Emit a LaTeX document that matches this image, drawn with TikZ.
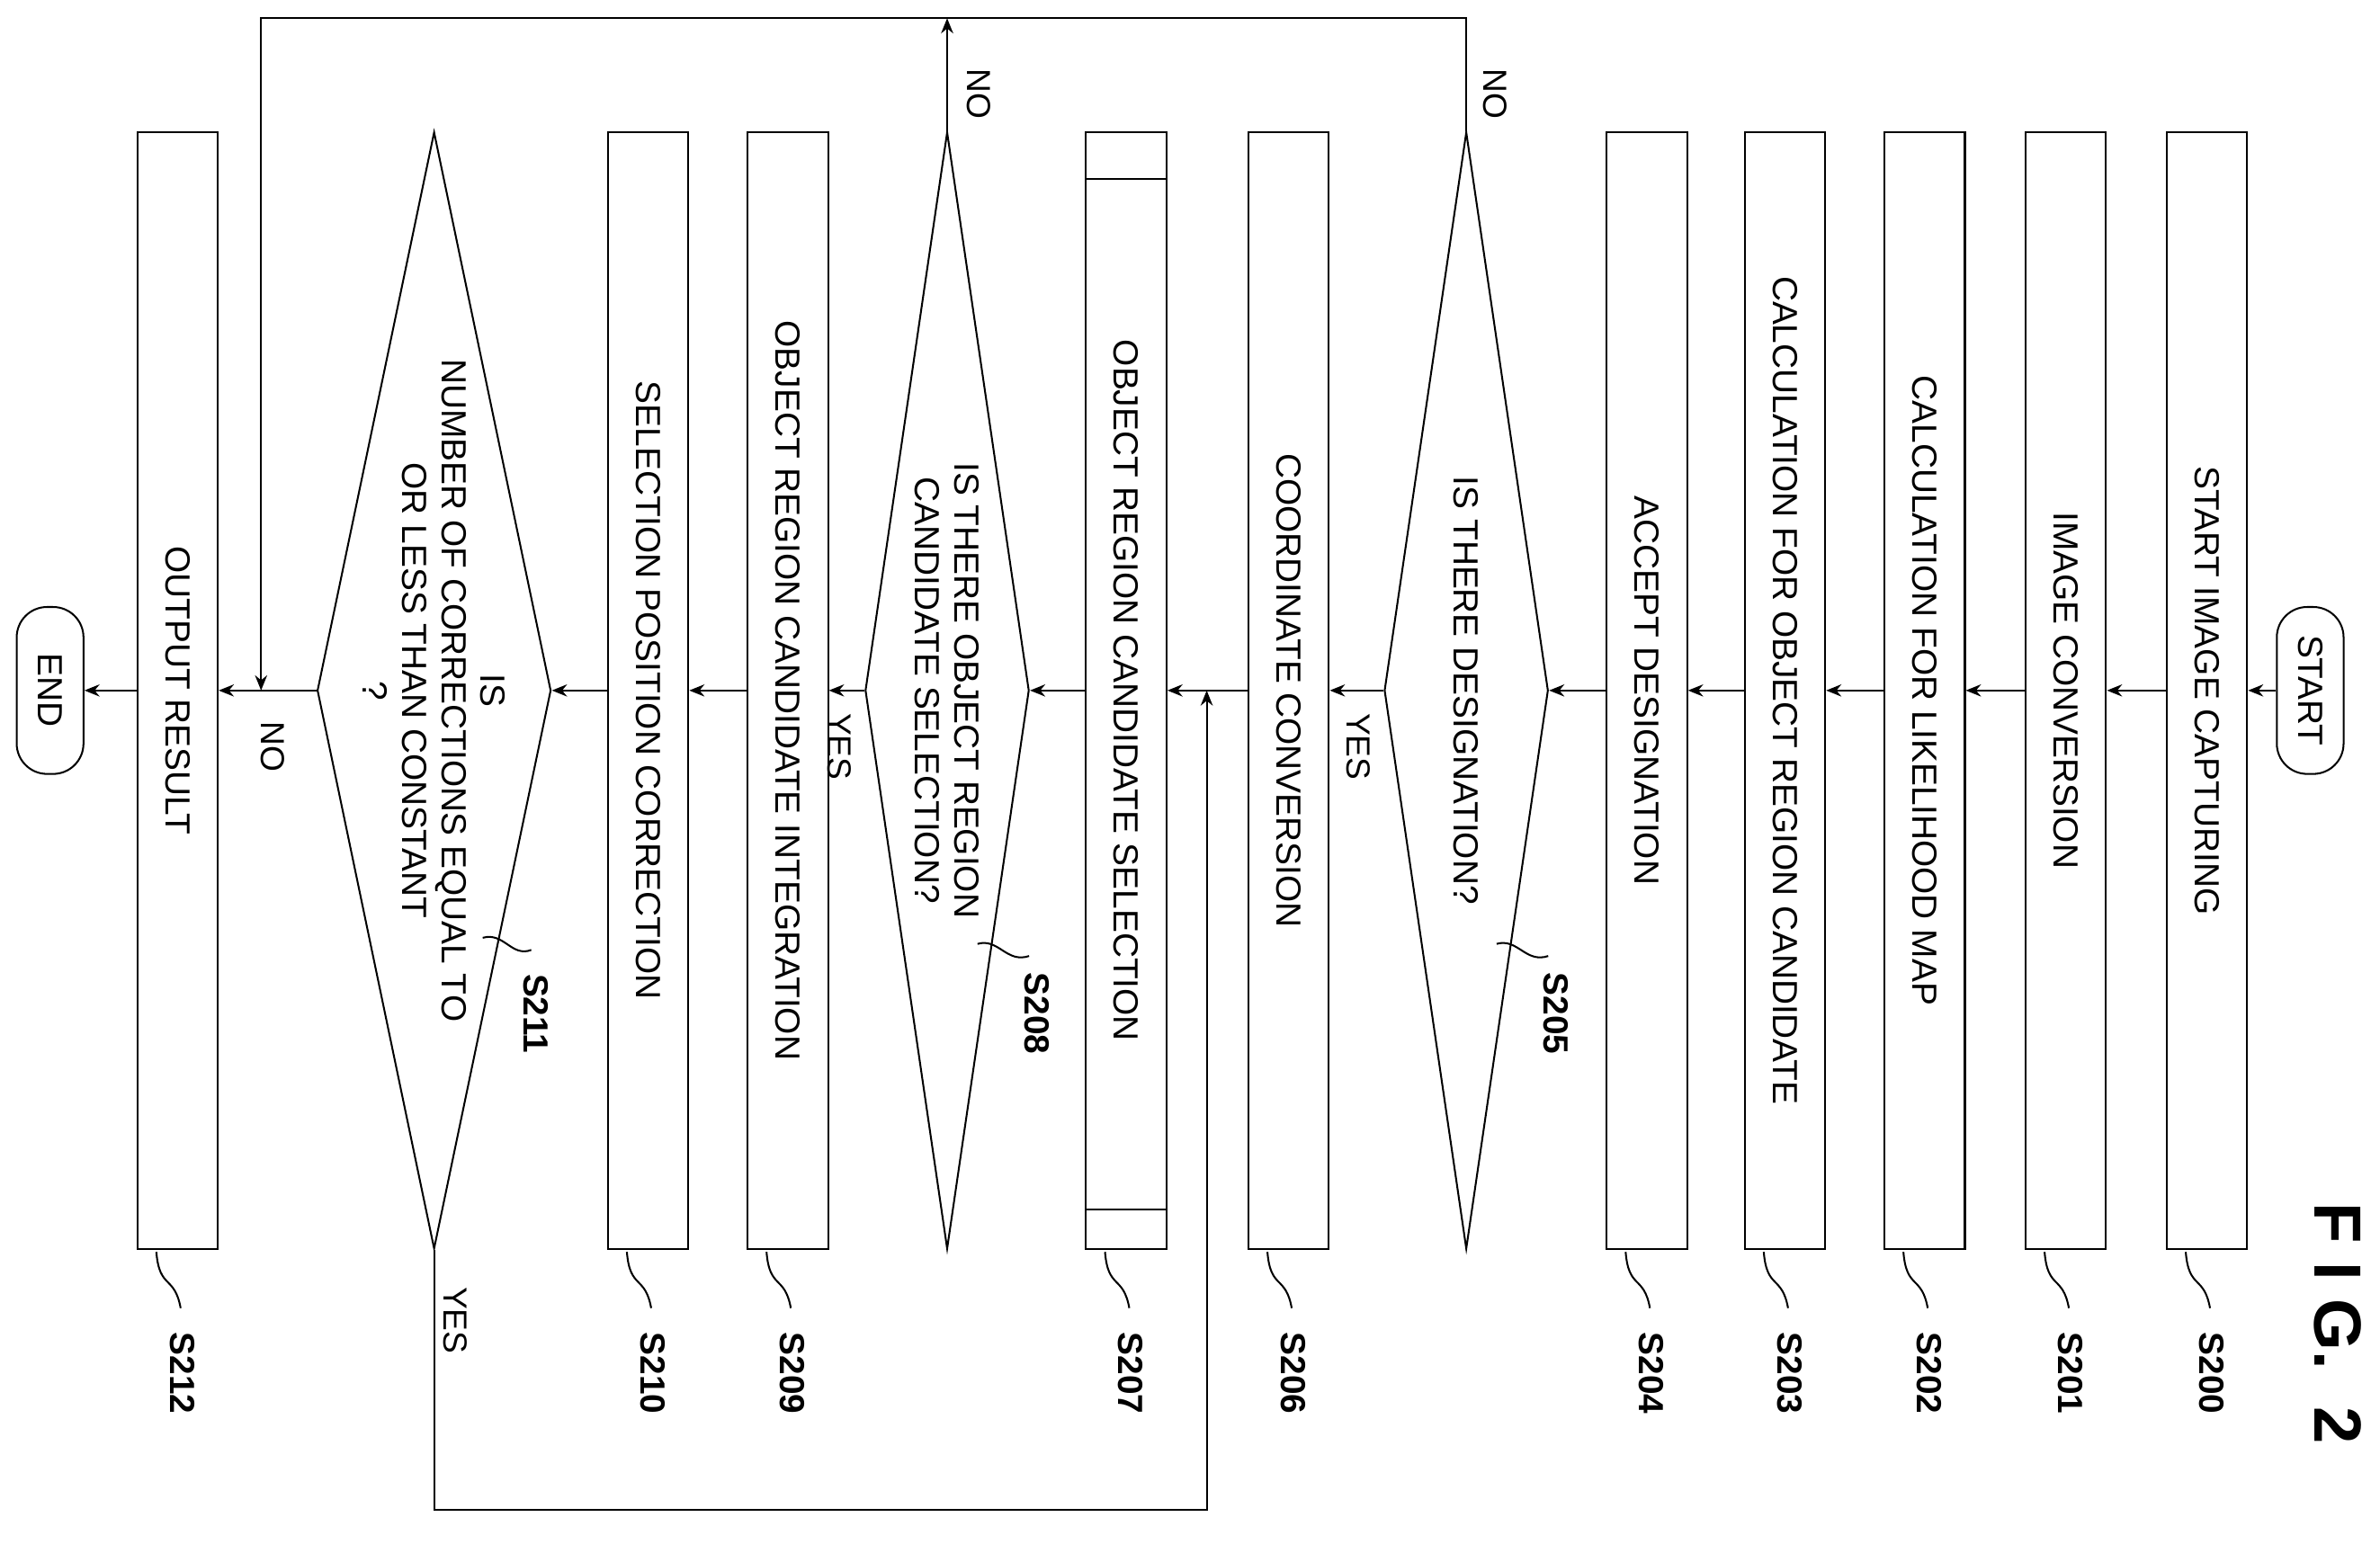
\documentclass[tikz,border=0pt]{standalone}
\usepackage{fontspec}
\setmainfont{Liberation Sans}
\usetikzlibrary{shapes.geometric,arrows.meta}
\tikzset{
  box/.style={draw, rotate=-90, minimum width=368pt, minimum height=26.5pt, inner sep=0pt, font=\fontsize{11.5}{13}\selectfont},
  dec/.style={draw, diamond, aspect=6.8, rotate=-90, minimum width=368pt, minimum height=54pt, inner sep=0pt, align=center, font=\fontsize{11.5}{13}\selectfont},
  term/.style={draw, rounded corners=10pt, rotate=-90, minimum width=55pt, minimum height=22pt, inner sep=0pt, font=\fontsize{11.5}{13}\selectfont},
  lbl/.style={rotate=-90, font=\bfseries\fontsize{11.5}{13}\selectfont},
  txt/.style={rotate=-90, font=\fontsize{11}{13}\selectfont},
  flow/.style={-{Stealth[length=5pt,width=4pt]}},
}
\begin{document}
\begin{tikzpicture}[x=0.5pt, y=-0.5pt, line width=0.6pt]
    \useasboundingbox (0,0) rectangle (1568,1017);
    % steps
    \node[term] (start) at(1522, 455) {START};
    \node[box] (s200) at(1454, 455) {START IMAGE CAPTURING};
    \node[box] (s201) at(1361, 455) {IMAGE CONVERSION};
    \node[box] (s202) at(1268, 455) {CALCULATION FOR LIKELIHOOD MAP};
    \node[box] (s203) at(1176, 455) {CALCULATION FOR OBJECT REGION CANDIDATE};
    \node[box] (s204) at(1085, 455) {ACCEPT DESIGNATION};
    \node[dec] (s205) at(966, 455) {IS THERE DESIGNATION?};
    \node[box] (s206) at(849, 455) {COORDINATE CONVERSION};
    \node[box] (s207) at(742, 455) {OBJECT REGION CANDIDATE SELECTION};
    \draw (716, 118) -- (768, 118);
    \draw (716, 797) -- (768, 797);
    \node[dec] (s208) at(624, 455) {IS THERE OBJECT REGION\\CANDIDATE SELECTION?};
    \node[box] (s209) at(519, 455) {OBJECT REGION CANDIDATE INTEGRATION};
    \node[box] (s210) at(427, 455) {SELECTION POSITION CORRECTION};
    \node[dec, aspect=4.8, minimum height=77pt] (s211) at(286, 455) {};
    \node[rotate=-90, align=center, font=\fontsize{11.5}{13}\selectfont] (s211t) at(s211) {IS\\NUMBER OF CORRECTIONS EQUAL TO\\OR LESS THAN CONSTANT\\?};
    \node[box] (s212) at(117, 455) {OUTPUT RESULT};
    \node[term] (end) at(33, 455) {END};
    % main flow
    \draw[flow] (start) -- (s200);
    \draw[flow] (s200) -- (s201);
    \draw[flow] (s201) -- (s202);
    \draw[flow] (s202) -- (s203);
    \draw[flow] (s203) -- (s204);
    \draw[flow] (s204) -- (s205);
    \draw[flow] (s205) -- (s206);
    \draw[flow] (s206) -- (s207);
    \draw[flow] (s207) -- (s208);
    \draw[flow] (s208) -- (s209);
    \draw[flow] (s209) -- (s210);
    \draw[flow] (s210) -- (s211);
    \draw[flow] (s211) -- (s212);
    \draw[flow] (s212) -- (end);
    % loops
    \coordinate (j211) at(172, 455);
    \coordinate (j207) at(795, 455);
    \coordinate (t208) at(624, 12);
    \draw[flow] (s205.west) -- (966, 12) -- (172, 12) -- (j211);
    \draw[flow] (s208.west) -- (t208);
    \draw[flow] (s211.east) -- (286, 995) -- (795, 995) -- (j207);
    \node[txt] at(985, 62) {NO};
    \node[txt] at(645, 62) {NO};
    \node[txt] at(180, 492) {NO};
    \node[txt] at(895, 492) {YES};
    \node[txt] at(553, 492) {YES};
    \node[txt] at(300, 870) {YES};
    % step labels
    \foreach \xc/\name in {1454/S200, 1361/S201, 1268/S202, 1176/S203, 1085/S204,
                           849/S206, 742/S207, 519/S209, 427/S210, 117/S212} {
      \draw (\xc-14, 825) .. controls (\xc-12, 850) and (\xc-2, 840) .. (\xc+2, 862);
      \node[lbl] at(\xc+3, 905) {\name};
    }
    \draw (986, 622) .. controls (1000, 618) and (1005, 635) .. (1020, 630);
    \node[lbl] at(1025, 668) {S205};
    \draw (644, 622) .. controls (658, 618) and (663, 635) .. (678, 630);
    \node[lbl] at(683, 668) {S208};
    \draw (318, 618) .. controls (332, 614) and (337, 631) .. (350, 626);
    \node[lbl] at(353, 668) {S211};
    \node[rotate=-90, font=\bfseries\fontsize{22}{24}\selectfont] at(1540, 872) {F I G.\ \ 2};
\end{tikzpicture}
\end{document}
